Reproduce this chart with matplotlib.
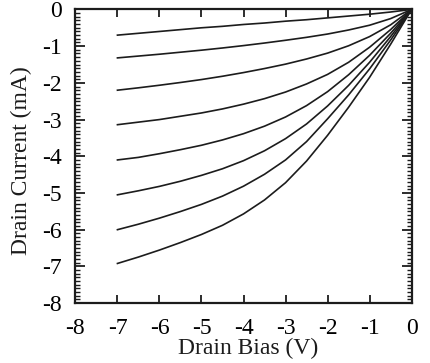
import matplotlib
matplotlib.use("Agg")
import matplotlib.pyplot as plt
from matplotlib.ticker import MultipleLocator

plt.rcParams["font.family"] = ["Liberation Serif", "DejaVu Serif"]
plt.rcParams["axes.unicode_minus"] = False

# drain bias points (V) shared by every curve
bias = [-7, -6.5, -6, -5.5, -5, -4.5, -4, -3.5, -3, -2.5, -2, -1.5, -1, -0.5, 0]

# drain current (mA), one list per gate step, smallest to largest
id_1 = [-0.70, -0.65, -0.60, -0.55, -0.50, -0.46, -0.41, -0.37, -0.32, -0.28, -0.23, -0.18, -0.13, -0.07, 0]
id_2 = [-1.32, -1.27, -1.22, -1.165, -1.11, -1.05, -0.985, -0.915, -0.84, -0.76, -0.67, -0.56, -0.43, -0.25, 0]
id_3 = [-2.20, -2.135, -2.065, -1.99, -1.91, -1.82, -1.72, -1.61, -1.49, -1.35, -1.19, -0.99, -0.74, -0.42, 0]
id_4 = [-3.14, -3.07, -3.00, -2.91, -2.82, -2.71, -2.58, -2.43, -2.25, -2.03, -1.77, -1.44, -1.03, -0.55, 0]
id_5 = [-4.10, -4.03, -3.93, -3.82, -3.70, -3.555, -3.385, -3.18, -2.93, -2.62, -2.24, -1.78, -1.25, -0.65, 0]
id_6 = [-5.05, -4.94, -4.82, -4.68, -4.52, -4.34, -4.12, -3.85, -3.52, -3.12, -2.63, -2.07, -1.44, -0.74, 0]
id_7 = [-6.00, -5.85, -5.685, -5.505, -5.31, -5.085, -4.815, -4.49, -4.10, -3.60, -2.98, -2.33, -1.62, -0.835, 0]
id_8 = [-6.92, -6.745, -6.555, -6.35, -6.13, -5.88, -5.57, -5.19, -4.72, -4.13, -3.43, -2.665, -1.85, -0.95, 0]
curves = [id_1, id_2, id_3, id_4, id_5, id_6, id_7, id_8]

x_ticks = [-8, -7, -6, -5, -4, -3, -2, -1, 0]
y_ticks = [0, -1, -2, -3, -4, -5, -6, -7, -8]

ink = "#1c1c1c"

fig = plt.figure(figsize=(4.31, 3.63), dpi=100)
ax = fig.add_axes([0.175, 0.165, 0.78, 0.809])

for cur in curves:
    ax.plot(bias, cur, color=ink, lw=1.2, solid_joinstyle="round")

ax.set_xlim(-8, 0)
ax.set_ylim(-8, 0)
ax.set_xticks(x_ticks)
ax.set_xticklabels([str(t) for t in x_ticks])
ax.set_yticks(y_ticks)
ax.set_yticklabels([str(t) for t in y_ticks])
ax.yaxis.set_minor_locator(MultipleLocator(0.1))

ax.tick_params(axis="x", which="major", direction="in", top=True, bottom=True,
               length=6, width=1.3, color=ink, labelsize=17, pad=11)
ax.tick_params(axis="y", which="major", direction="in", left=True, right=True,
               length=7, width=1.3, color=ink, labelsize=17, pad=10)
ax.tick_params(axis="y", which="minor", direction="in", left=True, right=True,
               length=3.5, width=1.0, color=ink)

for sp in ax.spines.values():
    sp.set_linewidth(1.6)
    sp.set_color(ink)

ax.set_xlabel("Drain Bias (V)", fontsize=17, color=ink)
ax.set_ylabel("Drain Current (mA)", fontsize=17, color=ink)
ax.xaxis.set_label_coords(0.513, -0.118)
ax.yaxis.set_label_coords(-0.128, 0.484)

fig.savefig("out.png", dpi=100, facecolor="white")
